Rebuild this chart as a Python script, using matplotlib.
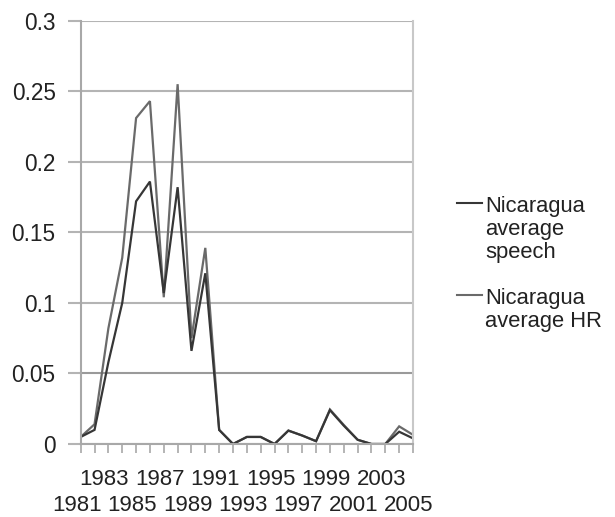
import matplotlib
matplotlib.use("Agg")
import matplotlib.pyplot as plt
from matplotlib.lines import Line2D
from matplotlib.ticker import FixedLocator, FixedFormatter
from matplotlib.transforms import ScaledTranslation

years = list(range(1981, 2006))
speech = [0.005, 0.010, 0.058, 0.100, 0.172, 0.186, 0.107, 0.182, 0.066, 0.121,
          0.010, 0.000, 0.005, 0.005, 0.000, 0.0095, 0.006, 0.002, 0.024, 0.013,
          0.003, 0.000, 0.000, 0.0087, 0.004]
hr = [0.005, 0.014, 0.082, 0.132, 0.231, 0.243, 0.104, 0.255, 0.075, 0.139,
      0.010, 0.000, 0.005, 0.005, 0.000, 0.0095, 0.006, 0.002, 0.0245, 0.0135,
      0.003, 0.000, 0.000, 0.0125, 0.0065]
yticks = [0, 0.05, 0.1, 0.15, 0.2, 0.25, 0.3]
ytick_labels = ["0", "0.05", "0.1", "0.15", "0.2", "0.25", "0.3"]
legend_labels = ["Nicaragua\naverage\nspeech", "Nicaragua\naverage HR"]

plt.rcParams['font.family'] = ['Liberation Sans', 'DejaVu Sans']
W, H = 615, 517
fig = plt.figure(figsize=(W / 100, H / 100), dpi=100)
fig.patch.set_facecolor('white')
L, R, T, B = 80.7, 413, 20.7, 444
ax = fig.add_axes([L / W, 1 - B / H, (R - L) / W, (B - T) / H])

grid_c = '#b4b4b4'
ax.set_ylim(0, 0.3)
ax.set_yticks(yticks)
ax.set_yticklabels(ytick_labels)
ax.yaxis.grid(True, color=grid_c, linewidth=1.5)
ax.yaxis.get_gridlines()[1].set_color('#9a9a9a')
ax.set_axisbelow(True)

x = list(range(len(years)))
ax.plot(x, hr, color='#6a6a6a', linewidth=1.6, solid_joinstyle='miter')
ax.plot(x, speech, color='#363636', linewidth=1.6, solid_joinstyle='miter')

ax.set_xlim(0, len(years) - 1)
top_pos = [i for i in x if i % 4 == 2]
top_lab = [str(years[i]) for i in top_pos]
other_pos = [i for i in x if i % 4 != 2]
other_lab = [str(years[i]) if i % 4 == 0 else "" for i in other_pos]
ax.xaxis.set_major_locator(FixedLocator(top_pos))
ax.xaxis.set_major_formatter(FixedFormatter(top_lab))
ax.xaxis.set_minor_locator(FixedLocator(other_pos))
ax.xaxis.set_minor_formatter(FixedFormatter(other_lab))

ax.spines['top'].set_visible(False)
for s in ['left', 'bottom', 'right']:
    ax.spines[s].set_color('#a8a8a8')
    ax.spines[s].set_linewidth(1.5)
ax.spines['right'].set_color('#c8c8c8')

ax.tick_params(axis='y', length=9.4, width=1.5, color=grid_c, pad=8.6,
               labelsize=16.3, labelcolor='#222222')
ax.tick_params(axis='x', which='major', length=6.5, width=1.2, color='#a8a8a8',
               pad=11.5, labelsize=16, labelcolor='#222222')
ax.tick_params(axis='x', which='minor', length=6.5, width=1.2, color='#a8a8a8',
               pad=30.5, labelsize=16, labelcolor='#222222')
off = ScaledTranslation(-4 / 100, 0, fig.dpi_scale_trans)
for lab in ax.get_xticklabels(which='both'):
    lab.set_transform(lab.get_transform() + off)

# legend (manual)
cols = ['#363636', '#6a6a6a']
handle_y = [203, 295]
text_top = [196, 288]
for c, hy, ty, lab in zip(cols, handle_y, text_top, legend_labels):
    fig.add_artist(Line2D([457 / W, 482 / W], [1 - hy / H, 1 - hy / H],
                          color=c, linewidth=1.5, transform=fig.transFigure))
    fig.text(485 / W, 1 - ty / H, lab, ha='left', va='top', fontsize=15.8,
             color='#222222', linespacing=1.12)

fig.savefig('out.png', dpi=100, facecolor='white')
